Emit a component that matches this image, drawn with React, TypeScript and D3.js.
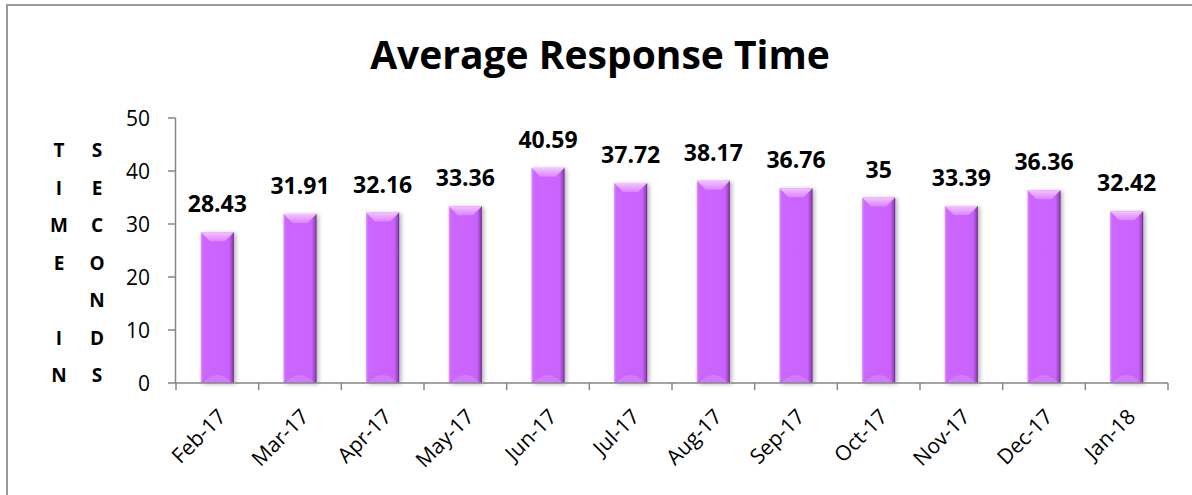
import React from 'react'
import * as d3 from 'd3'

const months = ['Feb-17', 'Mar-17', 'Apr-17', 'May-17', 'Jun-17', 'Jul-17', 'Aug-17', 'Sep-17', 'Oct-17', 'Nov-17', 'Dec-17', 'Jan-18']
const responseTimes = [28.43, 31.91, 32.16, 33.36, 40.59, 37.72, 38.17, 36.76, 35, 33.39, 36.36, 32.42]
const yTicks = [0, 10, 20, 30, 40, 50]
const titleLeft = ['T', 'I', 'M', 'E', '', 'I', 'N']
const titleRight = ['S', 'E', 'C', 'O', 'N', 'D', 'S']

const W = 1192
const H = 495
const FONT = '"Open Sans", "Liberation Sans", sans-serif'
const AXIS = '#868686'

const App = () => {
    const x = d3.scaleBand<string>()
        .domain(months)
        .range([176, 1168])
        .paddingInner(0.6)
        .paddingOuter(0.3)
    const step = x.step()
    const y = d3.scaleLinear().domain([0, 50]).range([383, 118])
    const bw = x.bandwidth()
    const bevel = 9

    return (
        <svg width={W} height={H} style={{ position: 'absolute', left: 0, top: 0, background: '#fff' }}>
            <defs>
                <linearGradient id="barGrad" x1="0" y1="0" x2="1" y2="0">
                    <stop offset="0" stopColor="#D58BFF" />
                    <stop offset="0.08" stopColor="#CC66FF" />
                    <stop offset="0.85" stopColor="#CA63FD" />
                    <stop offset="0.95" stopColor="#9E45C8" />
                    <stop offset="1" stopColor="#5E2A78" />
                </linearGradient>
                <linearGradient id="bevelGrad" x1="0" y1="0" x2="0" y2="1">
                    <stop offset="0" stopColor="#F4C4FF" />
                    <stop offset="1" stopColor="#DB86FF" />
                </linearGradient>
                <filter id="shadow" x="-30%" y="-10%" width="160%" height="120%">
                    <feDropShadow dx="2" dy="1" stdDeviation="2" floodColor="#000" floodOpacity="0.3" />
                </filter>
            </defs>

            <rect x={7} y={5} width={1300} height={600} fill="#fff" stroke="#999" strokeWidth={2} />

            <text x={600} y={69} textAnchor="middle" fontFamily={FONT} fontWeight="bold" fontSize={39} fill="#000">
                Average Response Time
            </text>

            {titleLeft.map((c, i) => (
                <text key={'l' + i} x={59} y={157 + i * 37.5} textAnchor="middle" fontFamily={FONT} fontWeight="bold" fontSize={19}>{c}</text>
            ))}
            {titleRight.map((c, i) => (
                <text key={'r' + i} x={97} y={157 + i * 37.5} textAnchor="middle" fontFamily={FONT} fontWeight="bold" fontSize={19}>{c}</text>
            ))}

            {/* y axis */}
            <line x1={175.5} x2={175.5} y1={y(50)} y2={y(0)} stroke={AXIS} strokeWidth={1.5} />
            {yTicks.map(t => (
                <g key={t}>
                    <line x1={168} x2={175.5} y1={y(t)} y2={y(t)} stroke={AXIS} strokeWidth={1.5} />
                    <text x={150} y={y(t)} dy="0.36em" textAnchor="end" fontFamily={FONT} fontSize={21} fill="#000">{t}</text>
                </g>
            ))}

            {/* bars */}
            {months.map((m, i) => {
                const bx = x(m) as number
                const by = y(responseTimes[i])
                const bh = y(0) - by
                const top = `${bx},${by} ${bx + bw},${by} ${bx + bw - bevel},${by + bevel} ${bx + bevel},${by + bevel}`
                const y0 = y(0)
                const hump = `M${bx + 2},${y0} Q${bx + bw / 2},${y0 - 16} ${bx + bw - 2},${y0} Z`
                return (
                    <g key={m}>
                        <rect x={bx} y={by} width={bw} height={bh} fill="url(#barGrad)" filter="url(#shadow)" />
                        <polygon points={top} fill="url(#bevelGrad)" />
                        <path d={hump} fill="#D98CFF" opacity={0.55} />
                    </g>
                )
            })}

            {/* x axis */}
            <line x1={175.5} x2={1168} y1={383} y2={383} stroke={AXIS} strokeWidth={1.5} />
            {d3.range(months.length + 1).map(i => (
                <line key={i} x1={176 + i * step} x2={176 + i * step} y1={383} y2={390} stroke={AXIS} strokeWidth={1.5} />
            ))}
            {months.map(m => {
                const cx = (x(m) as number) + bw / 2
                return (
                    <text key={m} transform={`translate(${cx + 10},${418}) rotate(-45)`} textAnchor="end"
                        fontFamily={FONT} fontSize={21} fill="#000">{m}</text>
                )
            })}

            {/* data labels */}
            {months.map((m, i) => (
                <text key={m} x={(x(m) as number) + bw / 2} y={y(responseTimes[i]) - 20} textAnchor="middle"
                    fontFamily={FONT} fontWeight="bold" fontSize={23} fill="#000">
                    {String(responseTimes[i])}
                </text>
            ))}
        </svg>
    )
}

export default App
